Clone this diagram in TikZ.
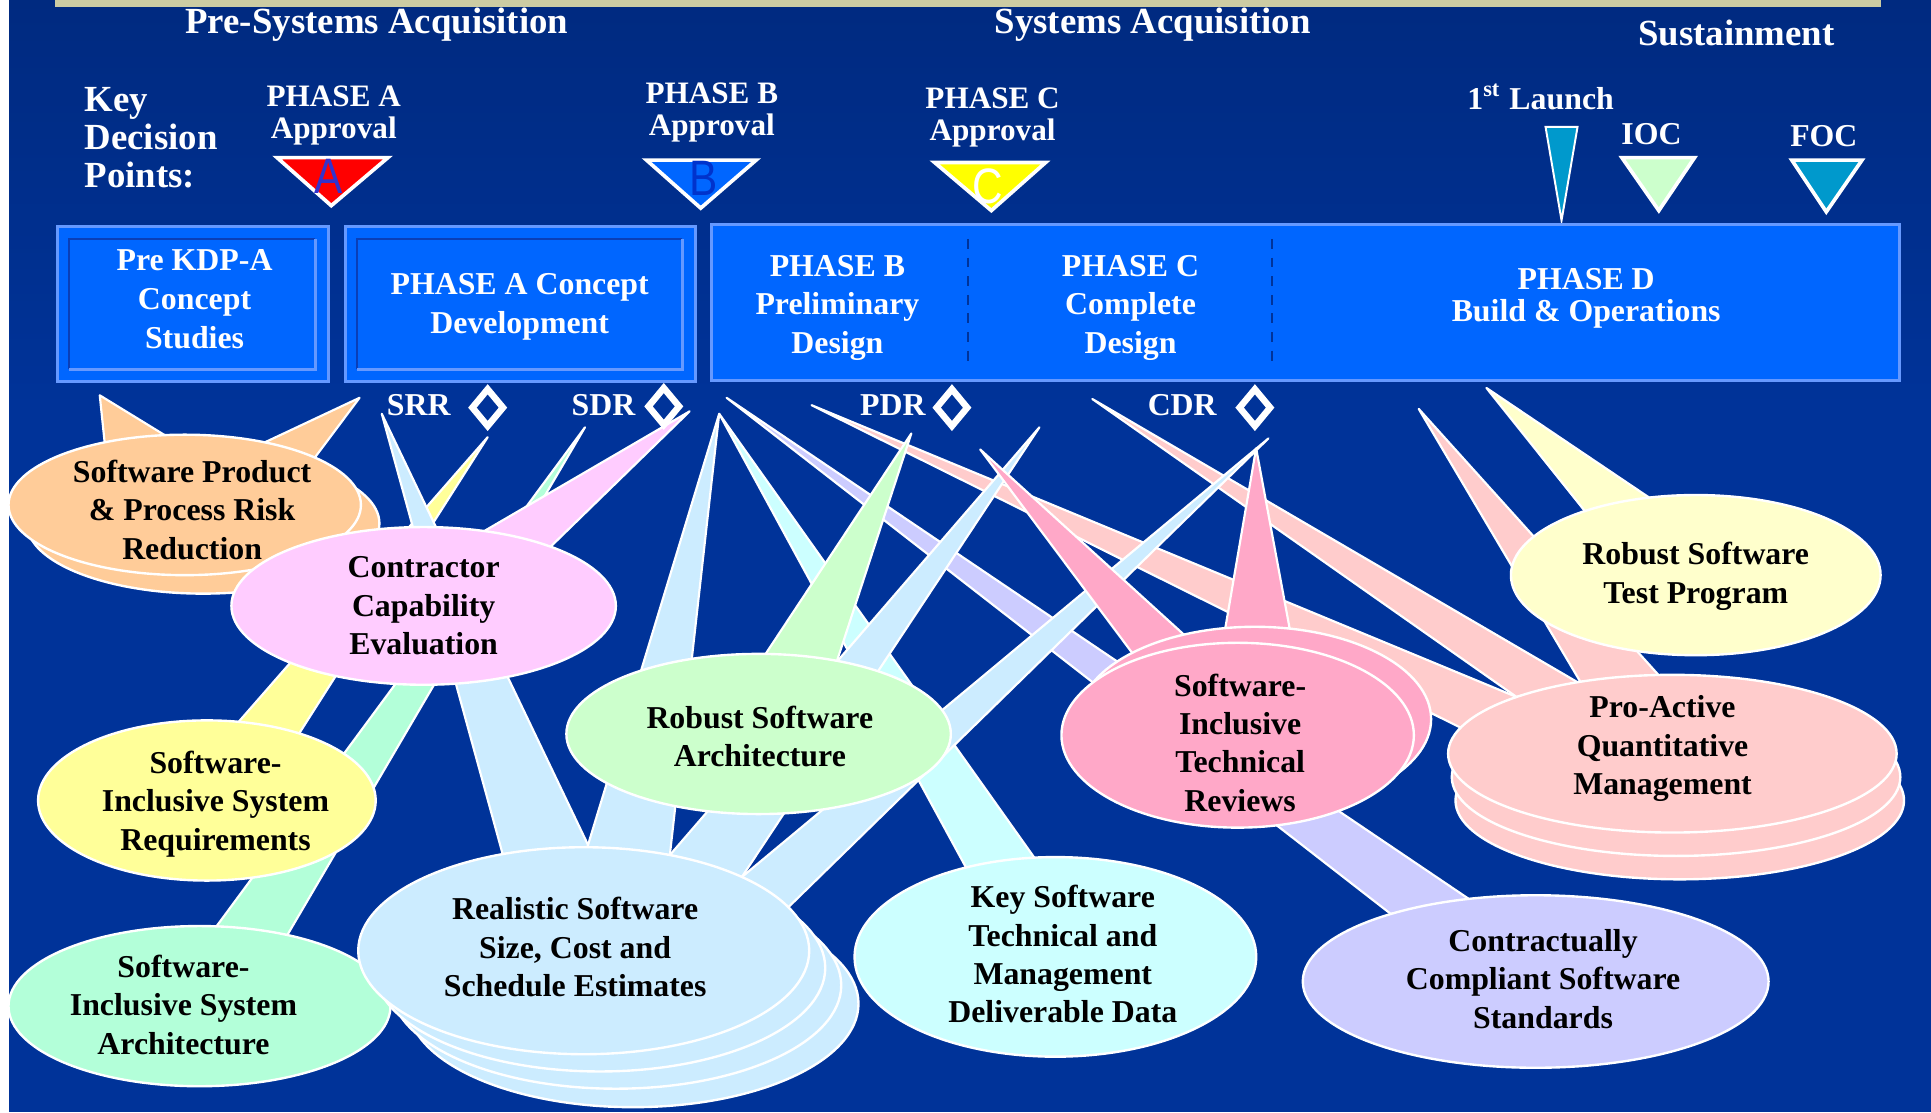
\documentclass[tikz,border=0pt]{standalone}
\usepackage{fontspec}
\setmainfont{Liberation Serif}
\newfontfamily\kdpfont[FakeStretch=0.85]{Liberation Sans}
\usetikzlibrary{shapes.geometric}

% 色の定義
\definecolor{bgmain}{HTML}{003399}
\definecolor{bgtop}{HTML}{002A80}
\definecolor{topbar}{HTML}{CCCCA3}
\definecolor{phasefill}{HTML}{0066FF}
\definecolor{phaseedge}{HTML}{6699FF}
\definecolor{phasedark}{HTML}{0A3FB8}
\definecolor{kdpred}{HTML}{FF0000}
\definecolor{kdpblue}{HTML}{0066FF}
\definecolor{kdpyellow}{HTML}{FFFF00}
\definecolor{kdpteal}{HTML}{0099CC}
\definecolor{kdpgreen}{HTML}{CCFFCC}
\definecolor{letterA}{HTML}{3333CC}
\definecolor{letterB}{HTML}{0033CC}
\definecolor{cOrange}{HTML}{FFCC99}
\definecolor{cPink}{HTML}{FFCCFF}
\definecolor{cYellow}{HTML}{FFFF99}
\definecolor{cMint}{HTML}{B3FFD9}
\definecolor{cSky}{HTML}{CCECFF}
\definecolor{cGreen}{HTML}{CCFFCC}
\definecolor{cCyan}{HTML}{CCFFFF}
\definecolor{cRose}{HTML}{FFA8C8}
\definecolor{cLilac}{HTML}{CCCCFF}
\definecolor{cSalmon}{HTML}{FFCCCC}
\definecolor{cCream}{HTML}{FFFFCC}

\pgfdeclarelayer{bglayer}
\pgfdeclarelayer{taillayer}
\pgfsetlayers{bglayer,taillayer,main}

\begin{document}
\begin{tikzpicture}[x=0.01cm,y=-0.01cm,
    title/.style={font=\bfseries\fontsize{8.5}{8.8}\selectfont,text=white,inner sep=0pt},
    wtext/.style={align=center,font=\bfseries\fontsize{7.35}{8.95}\selectfont,text=white,inner sep=0pt},
    wsmall/.style={align=center,font=\bfseries\fontsize{7.2}{7.4}\selectfont,text=white,inner sep=0pt},
    ctext/.style={align=center,font=\bfseries\fontsize{7.35}{8.85}\selectfont,text=black,inner sep=0pt},
    kdp/.style={draw=white,line width=0.85pt},
    kdpletter/.style={font=\kdpfont\fontsize{11.5}{11.5}\selectfont,inner sep=0pt},
    phasebox/.style={rectangle,fill=phasefill,draw=phaseedge,line width=0.7pt,inner sep=0pt,outer sep=0pt},
    review/.style={diamond,draw=white,line width=1.5pt,minimum width=0.27cm,minimum height=0.32cm,inner sep=0pt},
    bubble/.style={ellipse,draw=white,line width=0.55pt,inner sep=0pt,outer sep=0pt},
    tail/.style={draw=white,line width=0.5pt,line join=round}]

    \useasboundingbox (0,0) rectangle (1568,903);

    % 背景
    \begin{pgfonlayer}{bglayer}
        \fill[bgmain] (7,320) rectangle (1568,903);
        \shade[top color=bgtop,bottom color=bgmain] (7,0) rectangle (1568,330);
        \fill[white] (0,0) rectangle (7,903);
        \fill[topbar] (45,0) rectangle (1527,6);
    \end{pgfonlayer}

    % 見出し
    \node[title,anchor=base] (pre) at (306,27) {Pre-Systems Acquisition};
    \node[title,anchor=base] (sys) at (936,27) {Systems Acquisition};
    \node[title,anchor=base] (sus) at (1410,37) {Sustainment};
    \node[title,align=left,anchor=west] (kdp) at (68,112) {Key\\Decision\\Points:};

    % 承認ポイント
    \node[wsmall] (apA) at (271,94) {PHASE A\\Approval};
    \node[wsmall] (apB) at (578,91.5) {PHASE B\\Approval};
    \node[wsmall] (apC) at (806,95.5) {PHASE C\\Approval};
    \node[wtext,anchor=base] (launch) at (1251,89) {1\textsuperscript{st} Launch};
    \node[wtext,anchor=base] (ioc) at (1341,117) {IOC};
    \node[wtext,anchor=base] (foc) at (1481,119) {FOC};

    \filldraw[kdp,fill=kdpred] (225,128) -- (315,128) -- (269,167) -- cycle;
    \node[kdpletter,text=letterA] (kA) at (267,143) {A};
    \filldraw[kdp,fill=kdpblue] (525,130) -- (614,130) -- (569,169) -- cycle;
    \node[kdpletter,text=letterB] (kB) at (571,145) {B};
    \filldraw[kdp,fill=kdpyellow] (759,132) -- (849,132) -- (805,171) -- cycle;
    \node[kdpletter,text=white] (kC) at (802,151) {C};
    \filldraw[kdp,line width=0.45pt,fill=kdpteal] (1255,103) -- (1281,103) -- (1268,179) -- cycle;
    \filldraw[kdp,fill=kdpgreen] (1317,128) -- (1376,128) -- (1347,171) -- cycle;
    \filldraw[kdp,fill=kdpteal] (1455,130) -- (1512,130) -- (1483,172) -- cycle;

    % フェーズの箱
    \node[phasebox,minimum width=2.20cm,minimum height=1.26cm] (preBox) at (157,247) {};
    \node[phasebox,minimum width=2.84cm,minimum height=1.26cm] (aBox) at (423,247) {};
    \node[phasebox,minimum width=9.64cm,minimum height=1.27cm] (bcdBox) at (1060,245.5) {};
    \foreach \b in {preBox,aBox}{
        \draw[phasedark,line width=0.6pt] ([shift={(9,-10)}]\b.south west) -- ([shift={(9,10)}]\b.north west) -- ([shift={(-11,10)}]\b.north east);
        \draw[phaseedge,line width=0.6pt] ([shift={(9,-10)}]\b.south west) -- ([shift={(-11,-10)}]\b.south east) -- ([shift={(-11,10)}]\b.north east);
    }
    \draw[bgmain,line width=0.55pt,dash pattern=on 2.3pt off 2pt] (786,194) -- (786,294);
    \draw[bgmain,line width=0.55pt,dash pattern=on 2.3pt off 2pt] (1033,194) -- (1033,294);

    \node[wtext] (preTxt) at (158,243) {Pre KDP-A\\Concept\\Studies};
    \node[wtext] (aTxt) at (422,249) {PHASE A Concept\\Development};
    \node[wtext] (bTxt) at (680,250) {PHASE B\\Preliminary\\Design};
    \node[wtext] (cTxt) at (918,250) {PHASE C\\Complete\\Design};
    \node[wtext,font=\bfseries\fontsize{7.35}{7.4}\selectfont] (dTxt) at (1288,242) {PHASE D\\Build \& Operations};

    % レビュー
    \node[wtext,anchor=base] (srr) at (340,337) {SRR};
    \node[review] (srrD) at (396,331) {};
    \node[wtext,anchor=base] (sdr) at (490,337) {SDR};
    \node[review] (sdrD) at (539,330) {};
    \node[wtext,anchor=base] (pdr) at (725,337) {PDR};
    \node[review] (pdrD) at (773,331) {};
    \node[wtext,anchor=base] (cdr) at (960,337) {CDR};
    \node[review] (cdrD) at (1019,331) {};

    % 吹き出しの先端
    \coordinate (tOrL) at (81,321);
    \coordinate (tOrR) at (292,323);
    \coordinate (tSrrB) at (310,336);
    \coordinate (tSrrY) at (396,355);
    \coordinate (tSdrM) at (475,347);
    \coordinate (tSdrP) at (560,334);
    \coordinate (tSdrB) at (584,336);
    \coordinate (tSdrL) at (590,323);
    \coordinate (tPdrS) at (659,329);
    \coordinate (tPdrG) at (740,352);
    \coordinate (tPdrR) at (796,365);
    \coordinate (tPdrB) at (844,347);
    \coordinate (tCdrS) at (887,324);
    \coordinate (tCdrR) at (1020,364);
    \coordinate (tCdrB) at (1030,356);
    \coordinate (tLnS) at (1152,332);
    \coordinate (tLnY) at (1207,315);

    % 吹き出し
    \node[bubble,fill=cOrange,minimum width=2.86cm,minimum height=1.14cm] (ope2) at (165,425) {};
    \node[bubble,fill=cOrange,minimum width=2.86cm,minimum height=1.14cm] (ope) at (150,410) {};
    \node[ctext] (opeT) at (156,414) {Software Product\\\& Process Risk\\Reduction};

    \node[bubble,fill=cPink,minimum width=3.12cm,minimum height=1.28cm] (cce) at (344,492) {};
    \node[ctext] (cceT) at (344,492) {Contractor\\Capability\\Evaluation};

    \node[bubble,fill=cYellow,minimum width=2.74cm,minimum height=1.30cm] (sre) at (168,650) {};
    \node[ctext] (sreT) at (175,653) {Software-\\Inclusive System\\Requirements};

    \node[bubble,fill=cMint,minimum width=3.10cm,minimum height=1.30cm] (sae) at (162,817) {};
    \node[ctext] (saeT) at (149,816) {Software-\\Inclusive System\\Architecture};

    \node[bubble,fill=cSky,minimum width=3.66cm,minimum height=1.68cm] (rse4) at (514,815) {};
    \node[bubble,fill=cSky,minimum width=3.66cm,minimum height=1.68cm] (rse3) at (500,800) {};
    \node[bubble,fill=cSky,minimum width=3.66cm,minimum height=1.68cm] (rse2) at (487,786) {};
    \node[bubble,fill=cSky,minimum width=3.66cm,minimum height=1.68cm] (rse) at (474,772) {};
    \node[ctext] (rseT) at (467,769) {Realistic Software\\Size, Cost and\\Schedule Estimates};

    \node[bubble,fill=cGreen,minimum width=3.12cm,minimum height=1.30cm] (rae) at (616,596) {};
    \node[ctext] (raeT) at (617,598) {Robust Software\\Architecture};

    \node[bubble,fill=cCyan,minimum width=3.26cm,minimum height=1.62cm] (kde) at (857,777) {};
    \node[ctext] (kdeT) at (863,775) {Key Software\\Technical and\\Management\\Deliverable Data};

    \node[bubble,fill=cRose,minimum width=2.86cm,minimum height=1.50cm] (tre2) at (1019,584) {};
    \node[bubble,fill=cRose,minimum width=2.86cm,minimum height=1.50cm] (tre) at (1005,597) {};
    \node[ctext] (treT) at (1007,603) {Software-\\Inclusive\\Technical\\Reviews};

    \node[bubble,fill=cLilac,minimum width=3.78cm,minimum height=1.40cm] (cse) at (1247,797) {};
    \node[ctext] (cseT) at (1253,795) {Contractually\\Compliant Software\\Standards};

    \node[bubble,fill=cSalmon,minimum width=3.64cm,minimum height=1.28cm] (qme3) at (1364,650) {};
    \node[bubble,fill=cSalmon,minimum width=3.64cm,minimum height=1.28cm] (qme2) at (1361,631) {};
    \node[bubble,fill=cSalmon,minimum width=3.64cm,minimum height=1.28cm] (qme) at (1358,612) {};
    \node[ctext] (qmeT) at (1350,608) {Pro-Active\\Quantitative\\Management};

    \node[bubble,fill=cCream,minimum width=3.00cm,minimum height=1.30cm] (tpe) at (1377,467) {};
    \node[ctext] (tpeT) at (1377,468) {Robust Software\\Test Program};

    % 吹き出しのしっぽ
    \begin{pgfonlayer}{taillayer}
        \filldraw[tail,fill=cOrange] (ope.142.5) -- (tOrL) -- (ope.106.7) -- cycle;
        \filldraw[tail,fill=cOrange] (ope.38.5) -- (tOrR) -- (ope.20.4) -- cycle;
        \filldraw[tail,fill=cSalmon] (qme.173) -- (tPdrS) -- (qme.160) -- cycle;
        \filldraw[tail,fill=cSalmon] (qme.160) -- (tCdrS) -- (qme.143) -- cycle;
        \filldraw[tail,fill=cSalmon] (qme.142) -- (tLnS) -- (qme.100) -- cycle;
        \filldraw[tail,fill=cLilac] (cse.155) -- (tSdrL) -- (cse.129) -- cycle;
        \filldraw[tail,fill=cYellow] (sre.68.8) -- (tSrrY) -- (sre.36.4) -- cycle;
        \filldraw[tail,fill=cMint] (sae.78.9) -- (tSdrM) -- (sae.39.7) -- cycle;
        \filldraw[tail,fill=cSky] (rse.130) -- (tSrrB) -- (rse.87.5) -- cycle;
        \filldraw[tail,fill=cPink] (cce.51.1) -- (tSdrP) -- (cce.25.2) -- cycle;
        \filldraw[tail,fill=cCyan] (kde.135.7) -- (tSdrB) -- (kde.102.8) -- cycle;
        \filldraw[tail,fill=cSky] (rse.88) -- (tSdrB) -- (rse.48.9) -- cycle;
        \filldraw[tail,fill=cSky] (rse.48.9) -- (tPdrB) -- (rse.25.7) -- cycle;
        \filldraw[tail,fill=cSky] (rse.25.7) -- (tCdrB) -- (rse.12.5) -- cycle;
        \filldraw[tail,fill=cRose] (tre.143.9) -- (tPdrR) -- (tre.115.3) -- cycle;
        \filldraw[tail,fill=cRose] (tre2.108.7) -- (tCdrR) -- (tre2.69.3) -- cycle;
        \filldraw[tail,fill=cGreen] (rae.85.5) -- (tPdrG) -- (rae.43.1) -- cycle;
        \filldraw[tail,fill=cCream] (tpe.150) -- (tLnY) -- (tpe.121) -- cycle;
    \end{pgfonlayer}

\end{tikzpicture}
\end{document}
